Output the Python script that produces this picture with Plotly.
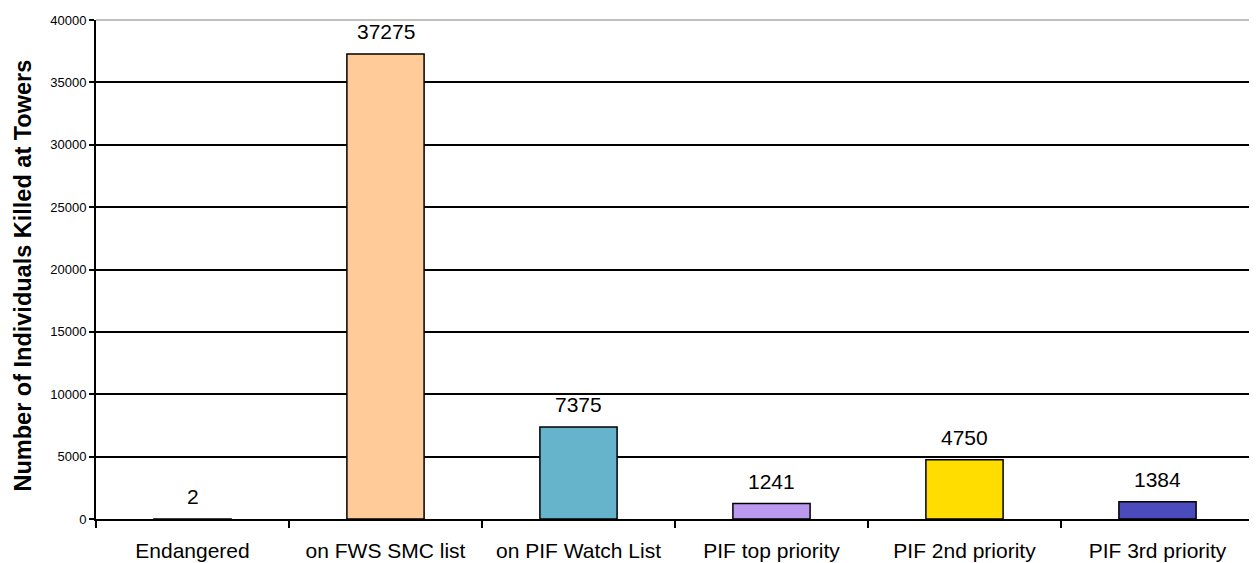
import plotly.graph_objects as go

categories = ["Endangered", "on FWS SMC list", "on PIF Watch List",
              "PIF top priority", "PIF 2nd priority", "PIF 3rd priority"]
values = [2, 37275, 7375, 1241, 4750, 1384]
colors = ["#FFCC99", "#FFCC99", "#66B3CC", "#BB99EE", "#FFDD00", "#4B4BBB"]
y_title = "Number of Individuals Killed at Towers"

FONT = "Arial, 'Liberation Sans', sans-serif"
# page body has an 8px margin; size the figure so the plot area lands where the reference has it
W, H = 1249, 555
ML, MR, MT, MB = 88, 3, 12, 44
PW = W - ML - MR

fig = go.Figure()
fig.add_trace(go.Bar(
    x=categories, y=values,
    marker=dict(color=colors, line=dict(color="black", width=1.5)),
    width=0.4, hoverinfo="x+y",
))

for c, v in zip(categories, values):
    fig.add_annotation(x=c, y=v, text=str(v), showarrow=False,
                       yanchor="bottom", yshift=9,
                       font=dict(family=FONT, size=21, color="black"))

# y-axis title (centre ~74px left of the plot area)
fig.add_annotation(xref="paper", yref="paper", x=-74 / PW, y=0.5,
                   xanchor="center", yanchor="middle", yshift=-6,
                   text="<b>" + y_title + "</b>", textangle=-90, showarrow=False,
                   font=dict(family=FONT, size=23.5, color="black"))

# grey top and right border
fig.add_shape(type="line", xref="paper", yref="paper", x0=0, x1=1, y0=1, y1=1,
              line=dict(color="#C0C0C0", width=2), layer="above")
fig.add_shape(type="line", xref="paper", yref="paper", x0=1, x1=1, y0=0, y1=1,
              line=dict(color="#C0C0C0", width=2), layer="above")

fig.update_layout(
    width=W, height=H,
    margin=dict(l=ML, r=MR, t=MT, b=MB, autoexpand=False),
    paper_bgcolor="white", plot_bgcolor="white",
    font=dict(family=FONT, color="black"),
    showlegend=False,
    bargap=0.6,
)
fig.update_xaxes(
    type="category", tickson="boundaries", ticks="outside", ticklen=7,
    tickwidth=1.5, tickcolor="black", showgrid=False,
    showline=True, linecolor="black", linewidth=2,
    tickfont=dict(family=FONT, size=21, color="black"),
    ticklabelstandoff=12, automargin=False,
)
fig.update_yaxes(
    range=[0, 40000], dtick=5000, tickformat="d",
    ticks="outside", ticklen=5, tickwidth=1.5, tickcolor="black",
    showgrid=True, gridcolor="black", gridwidth=1.5,
    showline=True, linecolor="black", linewidth=2,
    zeroline=False, automargin=False,
    tickfont=dict(family=FONT, size=13, color="black"),
)

fig.write_html("out.html")
